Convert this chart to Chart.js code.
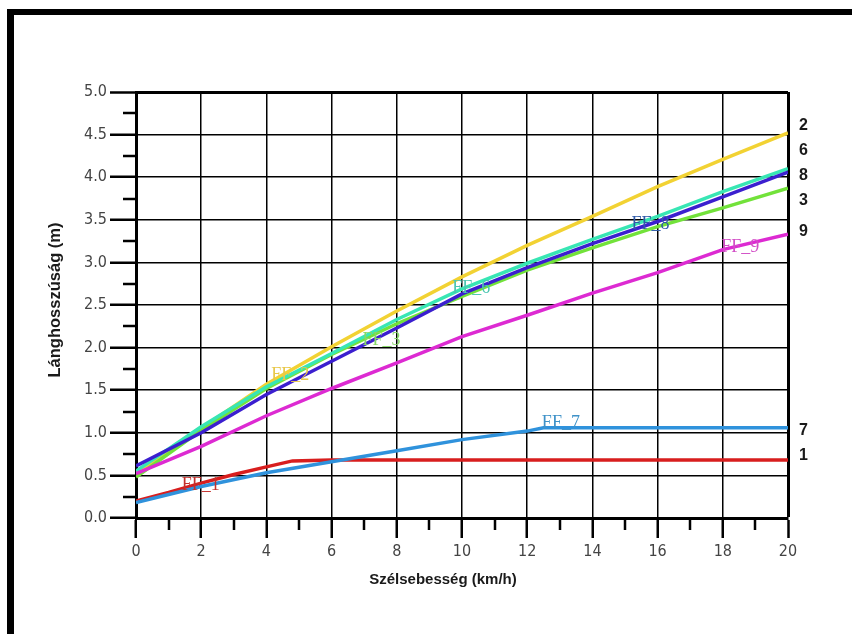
<!DOCTYPE html>
<html>
<head>
<meta charset="utf-8">
<script src="https://cdn.jsdelivr.net/npm/chart.js@4/dist/chart.umd.min.js"></script>
<style>
  html, body { margin: 0; padding: 0; background: #fff; }
  #wrap { position: relative; width: 852px; height: 634px; overflow: hidden; }
  #frame { position: absolute; left: 7px; top: 9px; right: -10px; bottom: -10px;
           border-top: 6px solid #000; border-left: 7px solid #000; }
  canvas { position: absolute; left: 0; top: 0; }
</style>
</head>
<body>
<div id="wrap">
  <div id="frame"></div>
  <canvas id="chart" width="852" height="634"></canvas>
</div>
<script>
// wind speed (km/h)
var xs = [0, 2, 4, 6, 8, 10, 12, 14, 16, 18, 20];

// flame length (m) per fuel type
var ff2 = [0.52, 1.05, 1.57, 2.01, 2.43, 2.83, 3.20, 3.54, 3.89, 4.21, 4.52];
var ff6 = [0.55, 1.07, 1.54, 1.93, 2.33, 2.69, 2.99, 3.27, 3.54, 3.83, 4.10];
var ff8 = [0.61, 1.00, 1.45, 1.84, 2.23, 2.63, 2.94, 3.22, 3.48, 3.77, 4.06];
var ff3 = [0.48, 1.03, 1.52, 1.92, 2.28, 2.60, 2.91, 3.17, 3.42, 3.64, 3.87];
var ff9 = [0.52, 0.84, 1.20, 1.52, 1.82, 2.13, 2.38, 2.64, 2.88, 3.15, 3.33];

var xs7 = [0, 2, 4, 6, 8, 10, 12, 12.5, 14, 16, 18, 20];
var ff7 = [0.18, 0.37, 0.53, 0.66, 0.79, 0.92, 1.02, 1.06, 1.06, 1.06, 1.06, 1.06];

var xs1 = [0, 1, 2, 3, 4, 4.8, 6, 8, 10, 12, 14, 16, 18, 20];
var ff1 = [0.20, 0.30, 0.41, 0.51, 0.60, 0.67, 0.68, 0.68, 0.68, 0.68, 0.68, 0.68, 0.68, 0.68];

var yTicks = ['0.0', '0.5', '1.0', '1.5', '2.0', '2.5', '3.0', '3.5', '4.0', '4.5', '5.0'];

// curve names on the right edge, and inline labels (x, y in data units)
var endNames = ['2', '6', '8', '3', '9', '7', '1'];
var endY = [4.6, 4.31, 4.02, 3.73, 3.36, 1.03, 0.73];
var inNames = ['FF_1', 'FF_2', 'FF_3', 'FF_6', 'FF_8', 'FF_9', 'FF_7'];
var inX = [1.4, 4.15, 6.95, 9.7, 15.2, 17.95, 12.45];
var inY = [0.39, 1.67, 2.09, 2.7, 3.45, 3.18, 1.11];
var inColors = ['#c4302c', '#e8c84a', '#86d866', '#4cc6b2', '#2f5aa8', '#d24ec6', '#3f92c8'];

function pts(x, y) {
  return x.map(function (v, i) { return { x: v, y: y[i] }; });
}

var ctx = document.getElementById('chart').getContext('2d');

var extras = {
  id: 'extras',
  afterDraw: function (chart) {
    var c = chart.ctx, a = chart.chartArea;
    var sx = chart.scales.x, sy = chart.scales.y;
    c.save();
    // minor ticks
    c.strokeStyle = '#000';
    c.lineWidth = 2.5;
    c.beginPath();
    for (var v = 0.25; v < 5; v += 0.5) {
      var py = Math.round(sy.getPixelForValue(v));
      c.moveTo(a.left - 13, py);
      c.lineTo(a.left, py);
    }
    for (var k = 1; k < 20; k += 2) {
      var px = Math.round(sx.getPixelForValue(k));
      c.moveTo(px, a.bottom);
      c.lineTo(px, a.bottom + 12);
    }
    c.stroke();

    // axis titles
    c.fillStyle = '#1a1a1a';
    c.font = 'bold 15px "Liberation Sans", Arial, sans-serif';
    c.textAlign = 'center';
    c.textBaseline = 'middle';
    c.fillText('Szélsebesség (km/h)', 443, 580);
    c.save();
    c.translate(55, 300);
    c.rotate(-Math.PI / 2);
    c.font = 'bold 16.5px "Liberation Sans", Arial, sans-serif';
    c.fillText('Lánghosszúság (m)', 0, 0);
    c.restore();

    // right-hand curve numbers
    c.textAlign = 'left';
    c.font = 'bold 16px "Liberation Sans", Arial, sans-serif';
    for (var i = 0; i < endNames.length; i++) {
      c.fillText(endNames[i], a.right + 11, sy.getPixelForValue(endY[i]));
    }

    // inline labels
    c.font = '18px "Liberation Serif", "Times New Roman", serif';
    for (var j = 0; j < inNames.length; j++) {
      c.fillStyle = inColors[j];
      c.fillText(inNames[j], sx.getPixelForValue(inX[j]), sy.getPixelForValue(inY[j]));
    }
    c.restore();
  }
};

var tickFont = { family: '"DejaVu Sans Condensed", "Liberation Sans Narrow", sans-serif', size: 16 };

var chart = new Chart(ctx, {
  type: 'line',
  data: {
    datasets: [
      { label: 'FF_7', data: pts(xs7, ff7), borderColor: '#2f92dc' },
      { label: 'FF_1', data: pts(xs1, ff1), borderColor: '#d81e1e' },
      { label: 'FF_9', data: pts(xs, ff9), borderColor: '#dd2ad2' },
      { label: 'FF_8', data: pts(xs, ff8), borderColor: '#3b1fcf' },
      { label: 'FF_6', data: pts(xs, ff6), borderColor: '#38e6b4' },
      { label: 'FF_3', data: pts(xs, ff3), borderColor: '#72e23a' },
      { label: 'FF_2', data: pts(xs, ff2), borderColor: '#f2d233' }
    ]
  },
  options: {
    responsive: false,
    animation: false,
    events: [],
    layout: { padding: { left: 0, top: 92, right: 64, bottom: 0 } },
    elements: {
      line: { borderWidth: 3.5, tension: 0, fill: false },
      point: { radius: 0 }
    },
    plugins: { legend: { display: false }, tooltip: { enabled: false } },
    scales: {
      x: {
        type: 'linear',
        min: 0, max: 20,
        afterFit: function (s) { s.height = 116; },
        ticks: { stepSize: 2, color: '#444', font: tickFont, padding: 4, maxRotation: 0 },
        grid: {
          color: '#000',
          lineWidth: function (c) { return c.tick && c.tick.value === 20 ? 3 : 1.5; },
          tickColor: '#000', tickLength: 20, tickWidth: 2.5
        },
        border: { color: '#000', width: 3 }
      },
      y: {
        min: 0, max: 5,
        afterFit: function (s) { s.width = 136; },
        ticks: {
          stepSize: 0.5, color: '#444', font: tickFont, padding: 3,
          callback: function (v) { return yTicks[Math.round(v * 2)]; }
        },
        grid: {
          color: '#000',
          lineWidth: function (c) { return c.tick && c.tick.value === 5 ? 3 : 1.5; },
          tickColor: '#000', tickLength: 26, tickWidth: 2.5
        },
        border: { color: '#000', width: 3 }
      }
    }
  },
  plugins: [extras]
});
</script>
</body>
</html>
